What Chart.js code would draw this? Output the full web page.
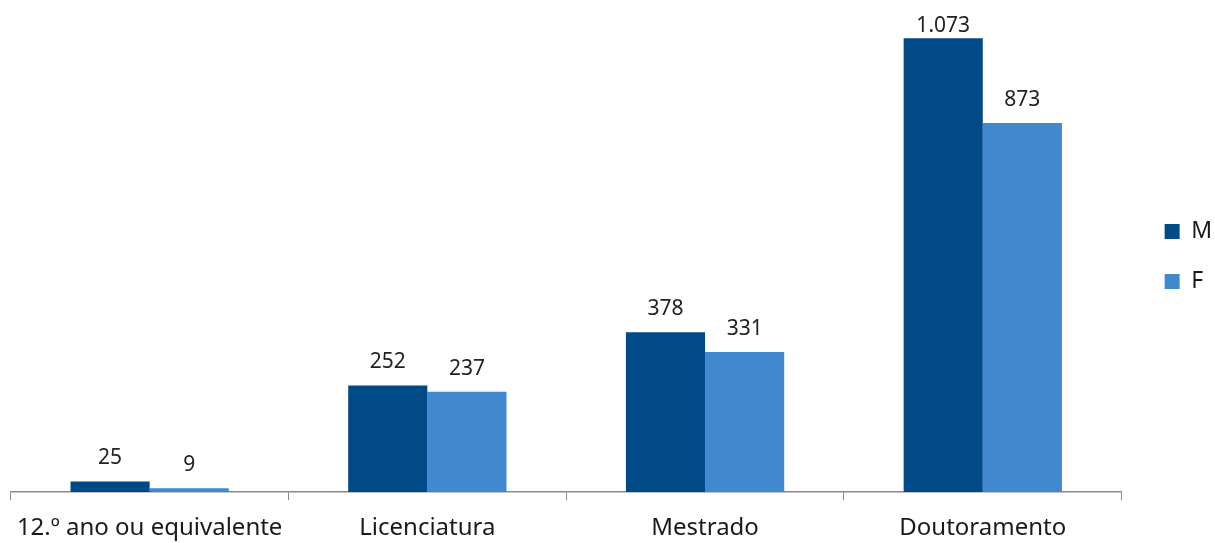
<!DOCTYPE html>
<html>
<head>
<meta charset="utf-8">
<script src="https://cdn.jsdelivr.net/npm/chart.js@4/dist/chart.umd.min.js"></script>
<style>
  html, body { margin: 0; padding: 0; background: #fff; }
  #wrap { width: 1215px; height: 543px; }
</style>
</head>
<body>
<div id="wrap"><canvas id="c"></canvas></div>
<script>
// ── Dados ─────────────────────────────────────────────
const categories = ['12.º ano ou equivalente', 'Licenciatura', 'Mestrado', 'Doutoramento'];
const valuesM = [25, 252, 378, 1073];
const valuesF = [9, 237, 331, 873];

const COLOR_M = '#004A88';
const COLOR_F = '#4189CF';
const FONT = "'Noto Sans', sans-serif";

// formato pt: 1.073
const fmt = v => v.toLocaleString('de-DE');

// rótulos de valor acima das barras (o da barra mais alta fica encostado ao topo)
const valueLabels = {
  id: 'valueLabels',
  afterDatasetsDraw(chart) {
    const { ctx, chartArea } = chart;
    ctx.save();
    ctx.font = `21px ${FONT}`;
    ctx.fillStyle = '#222';
    ctx.textAlign = 'center';
    ctx.textBaseline = 'alphabetic';
    chart.data.datasets.forEach((ds, i) => {
      chart.getDatasetMeta(i).data.forEach((bar, j) => {
        const y = Math.max(bar.y - 17, chartArea.top + 22);
        ctx.fillText(fmt(ds.data[j]), bar.x, y);
      });
    });
    ctx.restore();
  },
};

// empurra a legenda um pouco para a direita sem mexer na área do gráfico
const legendShift = {
  id: 'legendShift',
  afterLayout(chart) {
    if (!chart.legend) return;
    chart.legend.left += 16;
    chart.legend.right += 16;
  },
};

new Chart(document.getElementById('c'), {
  type: 'bar',
  plugins: [valueLabels, legendShift],
  data: {
    labels: categories,
    datasets: [
      { label: 'M', data: valuesM, backgroundColor: COLOR_M },
      { label: 'F', data: valuesF, backgroundColor: COLOR_F },
    ],
  },
  options: {
    animation: false,
    responsive: true,
    maintainAspectRatio: false,
    layout: { padding: { left: 7, top: 10, right: 9, bottom: 0 } },
    datasets: { bar: { categoryPercentage: 0.57, barPercentage: 1 } },
    plugins: {
      tooltip: { enabled: false },
      legend: {
        position: 'right',
        align: 'start',
        // título vazio só para empurrar a legenda para baixo
        title: { display: true, text: ' ', font: { size: 10 }, padding: { top: 171, bottom: 0 } },
        labels: {
          boxWidth: 15,
          boxHeight: 15,
          padding: 27,
          color: '#1a1a1a',
          font: { family: FONT, size: 23 },
        },
      },
    },
    scales: {
      x: {
        offset: true,
        // altura fixa do eixo: linha em ~492px, rótulos mais afastados
        afterFit(scale) { scale.height = 51; },
        grid: {
          display: true,
          offset: true,
          drawOnChartArea: false,
          drawTicks: true,
          tickLength: 8,
          color: '#888',
        },
        border: { display: true, color: '#888', width: 1.5 },
        ticks: {
          color: '#1a1a1a',
          padding: 16,
          font: { family: FONT, size: 24, lineHeight: 1.0 },
        },
      },
      y: {
        display: false,
        min: 0,
        max: 1140,
      },
    },
  },
});
</script>
</body>
</html>
